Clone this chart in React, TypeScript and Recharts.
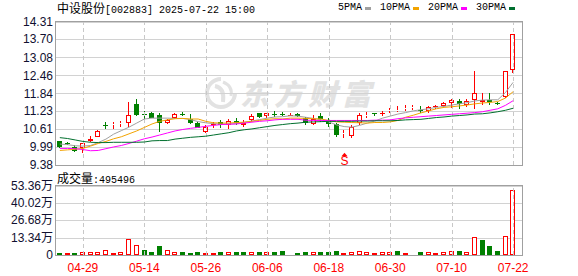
import React from 'react';
import { ComposedChart, Bar, Line, XAxis, YAxis, CartesianGrid, ReferenceLine, ReferenceDot } from 'recharts';

const stockName = '中设股份';
const stockCode = '[002883]';
const timestamp = '2025-07-22 15:00';
const lastVolume = 495496;

const dates = ['04-24','04-25','04-28','04-29','04-30','05-06','05-07','05-08','05-09','05-12','05-13','05-14','05-15','05-16','05-19','05-20','05-21','05-22','05-23','05-26','05-27','05-28','05-29','05-30','06-03','06-04','06-05','06-06','06-09','06-10','06-11','06-12','06-13','06-16','06-17','06-18','06-19','06-20','06-23','06-24','06-25','06-26','06-27','06-30','07-01','07-02','07-03','07-04','07-07','07-08','07-09','07-10','07-11','07-14','07-15','07-16','07-17','07-18','07-21','07-22'];

const opens = [10.19,10.14,9.99,9.96,10.19,10.35,10.77,10.77,10.78,10.82,11.48,11.12,11.18,11.10,10.82,10.98,11.14,10.95,10.82,10.53,10.79,10.86,10.76,10.89,10.74,10.93,11.16,11.05,11.14,11.13,11.09,11.13,11.00,10.78,11.08,10.93,10.78,10.44,10.36,10.84,11.08,11.17,11.15,11.22,11.25,11.32,11.35,11.28,11.22,11.40,11.42,11.51,11.58,11.45,11.60,11.54,11.62,11.52,11.71,12.65];
const closes = [10.00,10.10,9.87,10.13,10.27,10.56,10.74,10.80,10.81,11.10,11.10,11.10,11.01,10.84,10.93,11.13,11.13,10.82,10.65,10.70,10.80,10.74,10.90,10.82,10.84,11.08,11.02,11.16,11.13,11.11,11.11,11.05,10.82,10.95,10.96,10.79,10.41,10.48,10.67,11.10,11.11,11.15,11.18,11.26,11.27,11.34,11.37,11.27,11.36,11.41,11.52,11.62,11.48,11.59,11.85,11.62,11.53,11.47,12.62,13.88];
const highs = [10.22,10.18,10.07,10.13,10.38,10.58,10.87,10.86,10.90,11.53,11.65,11.25,11.19,11.16,10.95,11.15,11.20,11.14,10.87,10.76,10.85,10.93,10.96,10.99,10.93,11.12,11.18,11.17,11.24,11.20,11.16,11.18,11.03,11.10,11.16,10.99,10.82,10.59,10.76,11.16,11.21,11.17,11.23,11.33,11.39,11.45,11.45,11.39,11.41,11.45,11.55,11.65,11.64,11.64,12.62,11.85,11.87,11.56,12.62,13.88];
const lows = [9.97,10.06,9.82,9.80,10.17,10.33,10.61,10.61,10.70,10.70,11.07,10.97,11.00,10.53,10.80,10.96,11.05,10.80,10.64,10.47,10.64,10.65,10.61,10.74,10.70,10.87,11.00,11.00,11.02,11.07,11.05,11.03,10.77,10.76,10.87,10.70,10.35,10.32,10.30,10.76,10.99,11.05,11.08,11.16,11.19,11.25,11.27,11.16,11.16,11.30,11.36,11.33,11.30,11.37,11.30,11.45,11.45,11.43,11.68,12.54];

const ma5 = [10.10,10.08,10.04,10.03,10.05,10.15,10.27,10.44,10.56,10.68,10.82,10.96,10.99,10.99,10.99,10.98,10.98,10.94,10.87,10.83,10.80,10.78,10.79,10.80,10.85,10.89,10.94,10.99,11.03,11.04,11.07,11.06,11.02,10.98,10.93,10.86,10.76,10.70,10.68,10.74,10.82,10.89,10.99,11.06,11.13,11.18,11.24,11.28,11.31,11.36,11.39,11.44,11.48,11.52,11.58,11.61,11.62,11.62,11.87,12.22];
const ma10 = [9.88,9.90,9.92,9.95,10.03,10.12,10.19,10.28,10.35,10.45,10.55,10.67,10.79,10.88,10.93,10.97,10.98,10.96,10.96,10.88,10.83,10.82,10.82,10.84,10.85,10.88,10.91,10.95,10.97,10.96,10.99,10.99,10.98,10.97,10.96,10.91,10.86,10.85,10.84,10.83,10.82,10.84,10.84,10.86,10.91,11.02,11.09,11.17,11.24,11.31,11.36,11.38,11.41,11.44,11.48,11.51,11.53,11.56,11.68,11.90];
const ma20 = [9.95,9.95,9.94,9.91,9.87,9.88,9.94,10.00,10.05,10.12,10.20,10.28,10.34,10.41,10.48,10.55,10.60,10.64,10.67,10.71,10.74,10.77,10.78,10.79,10.82,10.85,10.88,10.90,10.93,10.95,10.95,10.95,10.92,10.91,10.91,10.91,10.91,10.91,10.91,10.91,10.91,10.92,10.92,10.93,10.97,11.00,11.02,11.04,11.06,11.08,11.10,11.12,11.14,11.16,11.18,11.21,11.26,11.31,11.43,11.59];
const ma30 = [10.32,10.29,10.24,10.19,10.16,10.15,10.15,10.16,10.16,10.16,10.16,10.17,10.21,10.22,10.22,10.27,10.30,10.33,10.35,10.37,10.41,10.45,10.49,10.55,10.59,10.62,10.66,10.70,10.74,10.77,10.80,10.82,10.85,10.86,10.87,10.88,10.88,10.88,10.88,10.89,10.89,10.90,10.90,10.90,10.91,10.93,10.94,10.95,10.98,11.01,11.03,11.06,11.08,11.10,11.13,11.14,11.17,11.21,11.26,11.33];

// volume in 万
const volumes = [1.8,1.5,1.8,2.3,2.3,2.3,3.9,1.8,2.3,12.4,7.7,4.1,2.6,7.0,3.9,2.3,2.6,1.8,2.6,1.5,1.5,2.6,2.6,2.6,2.6,2.6,2.6,2.6,2.6,3.4,1.0,1.3,2.1,2.6,2.1,2.1,2.8,1.8,2.6,3.4,2.6,1.8,2.6,2.6,2.8,1.8,1.0,2.1,2.6,1.8,2.6,3.4,3.4,2.6,14.2,11.9,7.2,3.4,14.9,49.55];
const volDir = ['d','u','d','u','u','u','u','u','u','u','u','d','d','d','u','u','d','d','d','u','u','d','u','d','d','u','d','u','d','d','u','d','d','u','d','d','d','u','u','u','u','u','u','u','d','u','u','d','u','u','u','u','d','u','u','d','d','d','u','u'];

const priceTicks = [9.38, 9.99, 10.61, 11.23, 11.84, 12.46, 13.08, 13.70, 14.31];
const volTicks = [0, 13.34, 26.68, 40.02, 53.36];
const xLabels = ['04-29','05-14','05-26','06-06','06-18','06-30','07-10','07-22'];
const signals = [{ date: '06-20', text: 'S' }];

const maSeries = [
  { key: 'ma5', name: '5PMA', color: '#a0a0a0' },
  { key: 'ma10', name: '10PMA', color: '#f2a300' },
  { key: 'ma20', name: '20PMA', color: '#ff00ff' },
  { key: 'ma30', name: '30PMA', color: '#006f2e' },
];

const RED = '#ff0000';
const GREEN = '#008000';
const GRID = '#d2d2d2';
const FRAME = '#a0a0a0';

const rows = dates.map((d, i) => ({
  date: d,
  open: opens[i],
  close: closes[i],
  high: highs[i],
  low: lows[i],
  ma5: ma5[i],
  ma10: ma10[i],
  ma20: ma20[i],
  ma30: ma30[i],
  vol: volumes[i],
  dir: volDir[i],
}));

const Candle = (props: any) => {
  const { x, y, width, height, payload } = props;
  if (!payload) return <g />;
  const { open, close, high, low } = payload;
  const span = high - low;
  const py = (v: number) => (span === 0 ? y : y + ((high - v) / span) * height);
  const left = Math.round(x + width / 2 - 2.5);
  const cx = left + 2.5;
  const up = close >= open;
  const color = up ? RED : GREEN;
  const yHigh = Math.round(py(high));
  const yLow = Math.round(py(low));
  const bTop = Math.round(py(Math.max(open, close)));
  const bBot = Math.round(py(Math.min(open, close)));
  if (bBot - bTop < 1) {
    return (
      <g>
        <line x1={cx} x2={cx} y1={yHigh} y2={Math.max(yLow, yHigh + 1)} stroke={color} strokeWidth={1} />
        <line x1={left} x2={left + 5} y1={bTop + 0.5} y2={bTop + 0.5} stroke={color} strokeWidth={1} />
      </g>
    );
  }
  if (up) {
    return (
      <g>
        {bTop > yHigh && <line x1={cx} x2={cx} y1={yHigh} y2={bTop} stroke={color} strokeWidth={1} />}
        {yLow > bBot && <line x1={cx} x2={cx} y1={bBot} y2={yLow} stroke={color} strokeWidth={1} />}
        <rect x={left + 0.5} y={bTop + 0.5} width={4} height={Math.max(bBot - bTop - 1, 0)} fill="#fff" stroke={color} strokeWidth={1} />
      </g>
    );
  }
  return (
    <g>
      <line x1={cx} x2={cx} y1={yHigh} y2={yLow} stroke={color} strokeWidth={1} />
      <rect x={left} y={bTop} width={5} height={bBot - bTop} fill={color} />
    </g>
  );
};

const VolBar = (props: any) => {
  const { x, y, width, height, payload } = props;
  if (!payload || !height) return <g />;
  const left = Math.round(x + width / 2 - 2.5);
  const top = Math.round(y);
  const bottom = Math.round(y + height);
  if (payload.dir === 'u') {
    return <rect x={left + 0.5} y={top + 0.5} width={4} height={Math.max(bottom - top - 1, 0)} fill="#fff" stroke={RED} strokeWidth={1} />;
  }
  return <rect x={left} y={top} width={5} height={Math.max(bottom - top, 1)} fill={GREEN} />;
};

const PriceTick = (props: any) => {
  const { y, payload } = props;
  return (
    <text x={53} y={y} dy={4.2} textAnchor="end" fontFamily="'Liberation Sans', Arial, sans-serif" fontSize={12} fill="#101030">
      {Number(payload.value).toFixed(2)}
    </text>
  );
};

const VolTick = (props: any) => {
  const { y, payload } = props;
  const v = Number(payload.value);
  return (
    <text x={53} y={y} dy={4.2} textAnchor="end" fontFamily="'Liberation Sans', 'Noto Sans CJK SC', sans-serif" fontSize={12} fill="#101030">
      {v === 0 ? '0' : v.toFixed(2) + '万'}
    </text>
  );
};

const DateTick = (props: any) => {
  const { x, y, payload } = props;
  if (!xLabels.includes(payload.value)) return <g />;
  return (
    <text x={x} y={y + 15} textAnchor="middle" fontFamily="'Liberation Sans', Arial, sans-serif" fontSize={12} fill={RED}>
      {payload.value}
    </text>
  );
};

const gridLine = (p: any) => {
  const yy = Math.round(p.y1) + 0.5;
  return <line key={p.key ?? yy} x1={p.x1} x2={p.x2} y1={yy} y2={yy} stroke={GRID} strokeWidth={1} />;
};

const dashShape = (p: any) => {
  const xx = Math.round(p.x1) + 0.5;
  return <line x1={xx} x2={xx} y1={p.y1} y2={p.y2} stroke="#c8c8c8" strokeWidth={1} strokeDasharray="4 3" />;
};

const SignalMark = (p: any) => {
  const { cx, cy } = p;
  const x = Math.round(cx) + 0.5;
  return (
    <g>
      <polygon points={`${x - 3},${cy + 18.5} ${x + 3},${cy + 18.5} ${x},${cy + 15}`} fill={RED} />
      <text x={x} y={cy + 27.5} textAnchor="middle" fontFamily="'Liberation Sans', Arial, sans-serif" fontSize={12} fill={RED}>S</text>
    </g>
  );
};

const monoFont = "'Liberation Mono', monospace";
const cjkFont = "'Noto Sans CJK SC', sans-serif";

export default function App() {
  const xPad = { left: 0, right: 5 };
  return (
    <div style={{ position: 'absolute', left: 0, top: 0, width: 578, height: 276, background: '#fff', overflow: 'hidden' }}>
      {/* watermark */}
      <svg style={{ position: 'absolute', left: 203, top: 76 }} width={36} height={34}>
        <path d="M18 3 A14 14 0 1 0 32 17" fill="none" stroke="#e2e2e2" strokeWidth={4} />
        <path d="M12 10 Q22 12 20 26" fill="none" stroke="#e2e2e2" strokeWidth={4} />
        <path d="M20 6 Q30 10 28 20" fill="none" stroke="#e2e2e2" strokeWidth={3} />
      </svg>
      <div style={{ position: 'absolute', left: 240, top: 77, fontFamily: cjkFont, fontSize: 29, lineHeight: '30px', fontWeight: 900, color: '#e2e2e2', letterSpacing: 5, fontStyle: 'italic', whiteSpace: 'nowrap' }}>
        东方财富
      </div>

      <div style={{ position: 'absolute', left: 0, top: 0 }}>
        <ComposedChart width={578} height={180} data={rows} margin={{ top: 21.5, right: 56, left: 0, bottom: 15 }} barSize={5}>
          <CartesianGrid vertical={false} horizontal={gridLine} stroke={GRID} />
          <XAxis dataKey="date" hide padding={xPad} />
          <YAxis domain={[9.38, 14.31]} ticks={priceTicks} interval={0} width={56} axisLine={false} tickLine={false} tick={PriceTick} allowDataOverflow />
          {xLabels.map((d) => (
            <ReferenceLine key={d} x={d} stroke="#c8c8c8" strokeDasharray="4 3" shape={dashShape} />
          ))}
          <Bar dataKey={(d: any) => [d.low, d.high]} shape={Candle} isAnimationActive={false} />
          {maSeries.map((s) => (
            <Line key={s.key} type="linear" dataKey={s.key} stroke={s.color} strokeWidth={1} dot={false} activeDot={false} isAnimationActive={false} />
          ))}
          {signals.map((s) => (
            <ReferenceDot key={s.date} x={s.date} y={lows[dates.indexOf(s.date)]} r={0} shape={SignalMark} />
          ))}
        </ComposedChart>
      </div>

      <div style={{ position: 'absolute', left: 0, top: 170 }}>
        <ComposedChart width={578} height={106} data={rows} margin={{ top: 15.5, right: 56, left: 0, bottom: 0 }} barSize={5}>
          <CartesianGrid vertical={false} horizontal={gridLine} stroke={GRID} />
          <XAxis dataKey="date" padding={xPad} height={21} interval={0} axisLine={false} tickLine={false} tickSize={0} tick={DateTick} />
          <YAxis domain={[0, 53.36]} ticks={volTicks} interval={0} width={56} axisLine={false} tickLine={false} tick={VolTick} allowDataOverflow />
          {xLabels.map((d) => (
            <ReferenceLine key={d} x={d} stroke="#c8c8c8" strokeDasharray="4 3" shape={dashShape} />
          ))}
          <Bar dataKey="vol" shape={VolBar} isAnimationActive={false} />
        </ComposedChart>
      </div>

      {/* frames */}
      <div style={{ position: 'absolute', left: 55, top: 21, width: 468, height: 145, border: `1px solid ${FRAME}`, boxSizing: 'border-box', pointerEvents: 'none' }} />
      <div style={{ position: 'absolute', left: 55, top: 185, width: 468, height: 71, border: `1px solid ${FRAME}`, boxSizing: 'border-box', pointerEvents: 'none' }} />

      {/* title */}
      <div style={{ position: 'absolute', left: 57, top: 0, lineHeight: '16px', whiteSpace: 'pre', color: '#000' }}>
        <span style={{ fontFamily: cjkFont, fontSize: 12 }}>{stockName}</span>
        <span style={{ fontFamily: monoFont, fontSize: 10 }}>{stockCode + ' ' + timestamp}</span>
      </div>

      {/* legend */}
      <div style={{ position: 'absolute', left: 338, top: 0, height: 16, display: 'flex', alignItems: 'center', whiteSpace: 'pre' }}>
        {maSeries.map((s) => (
          <div key={s.key} style={{ display: 'flex', alignItems: 'center', marginRight: 9 }}>
            <span style={{ fontFamily: monoFont, fontSize: 10, color: '#000', lineHeight: '16px' }}>{s.name}</span>
            <span style={{ display: 'inline-block', width: 6, height: 3, background: s.color, marginLeft: 3 }} />
          </div>
        ))}
      </div>

      {/* volume title */}
      <div style={{ position: 'absolute', left: 57, top: 170, lineHeight: '16px', whiteSpace: 'pre', color: '#000' }}>
        <span style={{ fontFamily: cjkFont, fontSize: 12 }}>成交量</span>
        <span style={{ fontFamily: monoFont, fontSize: 10 }}>{':' + lastVolume}</span>
      </div>
    </div>
  );
}
